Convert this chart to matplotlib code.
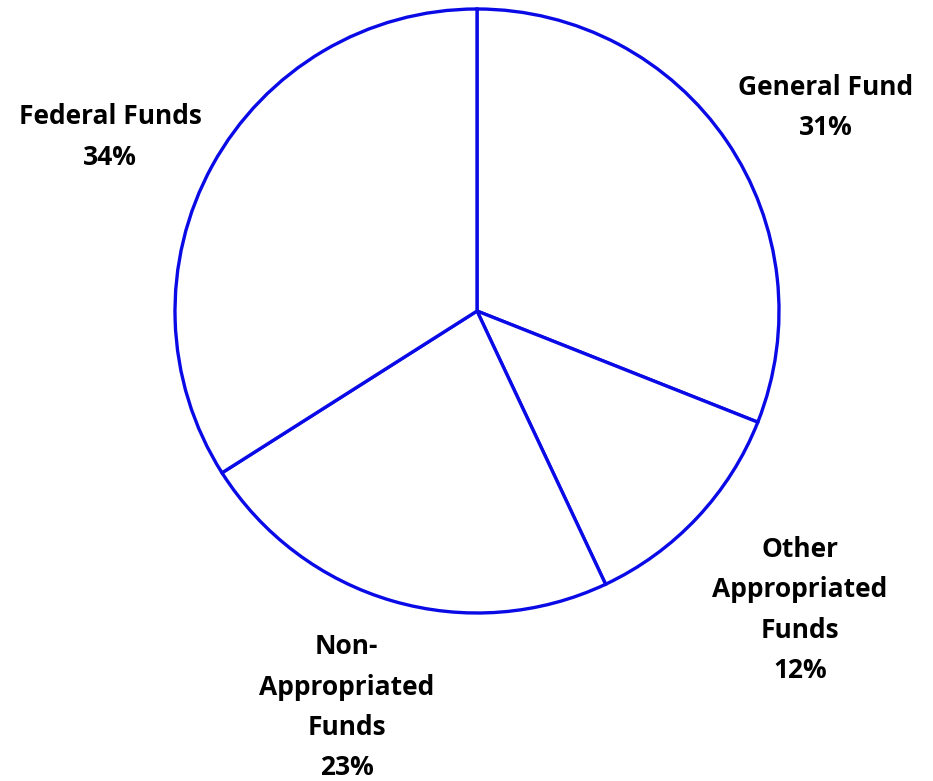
import numpy as np
import matplotlib.pyplot as plt

# 数据
labels = ["General Fund", "Other\nAppropriated\nFunds", "Non-\nAppropriated\nFunds", "Federal Funds"]
shares = [31, 12, 23, 34]

# 标签位置：离圆心的距离（半径倍数）和相对扇区中线的角度偏移（度）
label_dist = [1.338, 1.457, 1.381, 1.344]
label_shift = [-3.9, 0.4, -2.0, 3.4]

fig = plt.figure(figsize=(9.33, 7.81), dpi=100)
ax = fig.add_axes([0, 0, 1, 1])

cx, cy, r = 477, 781 - 311, 302
wedges, _ = ax.pie(
    shares,
    startangle=90,
    counterclock=False,
    center=(cx, cy),
    radius=r,
    colors=["white"] * len(shares),
    wedgeprops=dict(edgecolor="#0A0AE6", linewidth=2.4),
    frame=True,
)

for w, lab, val, d, s in zip(wedges, labels, shares, label_dist, label_shift):
    ang = np.deg2rad((w.theta1 + w.theta2) / 2 + s)
    x = cx + d * r * np.cos(ang)
    y = cy + d * r * np.sin(ang)
    ax.text(x, y, f"{lab}\n{val}%", ha="center", va="center",
            fontsize=19, fontweight="bold", family="Open Sans",
            linespacing=1.63, color="black")

ax.set_xlim(0, 933)
ax.set_ylim(0, 781)
ax.set_aspect("equal")
ax.axis("off")

fig.savefig("out.png", dpi=100)
